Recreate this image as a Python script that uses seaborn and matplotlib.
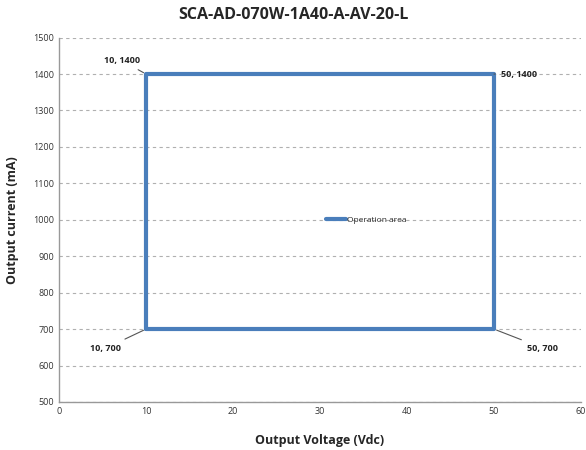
import pandas as pd
import matplotlib.pyplot as plt
import seaborn as sns

# Dữ liệu vùng hoạt động
voltage = [10, 10, 50, 50, 10]
current = [700, 1400, 1400, 700, 700]
corner_labels = ['10, 700', '10, 1400', '50, 1400', '50, 700']
corner_x = [10, 10, 50, 50]
corner_y = [700, 1400, 1400, 700]
label_x = [5.4, 7.2, 52.9, 55.6]
label_y = [648, 1437, 1400, 648]

df = pd.DataFrame({'Voltage': voltage, 'Current': current})

sns.set_style('white')
plt.rcParams['font.family'] = ['Open Sans', 'DejaVu Sans']

fig = plt.figure(figsize=(5.86, 4.5), dpi=100)
ax = fig.add_axes([0.1007, 0.1067, 0.8908, 0.8097])

sns.lineplot(data=df, x='Voltage', y='Current', sort=False, estimator=None,
             color='#4a7ebb', linewidth=3, label='Operation area', ax=ax)

for lab, cx, cy, lx, ly in zip(corner_labels, corner_x, corner_y, label_x, label_y):
    ax.annotate(lab, xy=(cx, cy), xytext=(lx, ly), fontsize=6.5, fontweight='bold',
                color='#222222', ha='center', va='center',
                arrowprops=dict(arrowstyle='-', color='#555555', lw=0.8))

ax.set_xlim(0, 60)
ax.set_ylim(500, 1500)
ax.set_xticks(range(0, 61, 10))
ax.set_yticks(range(500, 1501, 100))
ax.tick_params(labelsize=6.5, length=0, colors='#333333')
ax.yaxis.grid(True, linestyle=(0, (3, 3)), color='#b0b0b0', linewidth=0.8)
ax.xaxis.grid(False)
for s in ['top', 'right']:
    ax.spines[s].set_visible(False)
for s in ['left', 'bottom']:
    ax.spines[s].set_color('#999999')
    ax.spines[s].set_linewidth(1)

ax.set_xlabel('Output Voltage (Vdc)', fontsize=9, fontweight='bold', labelpad=13)
ax.set_ylabel('Output current (mA)', fontsize=9, fontweight='bold', labelpad=10)
fig.suptitle('SCA-AD-070W-1A40-A-AV-20-L', fontsize=11.5, fontweight='bold', y=0.985)

leg = ax.legend(loc='center', bbox_to_anchor=(0.588, 0.5), frameon=False, fontsize=6,
                handlelength=2.4, handletextpad=0.1)

plt.savefig('out.png', dpi=100)
